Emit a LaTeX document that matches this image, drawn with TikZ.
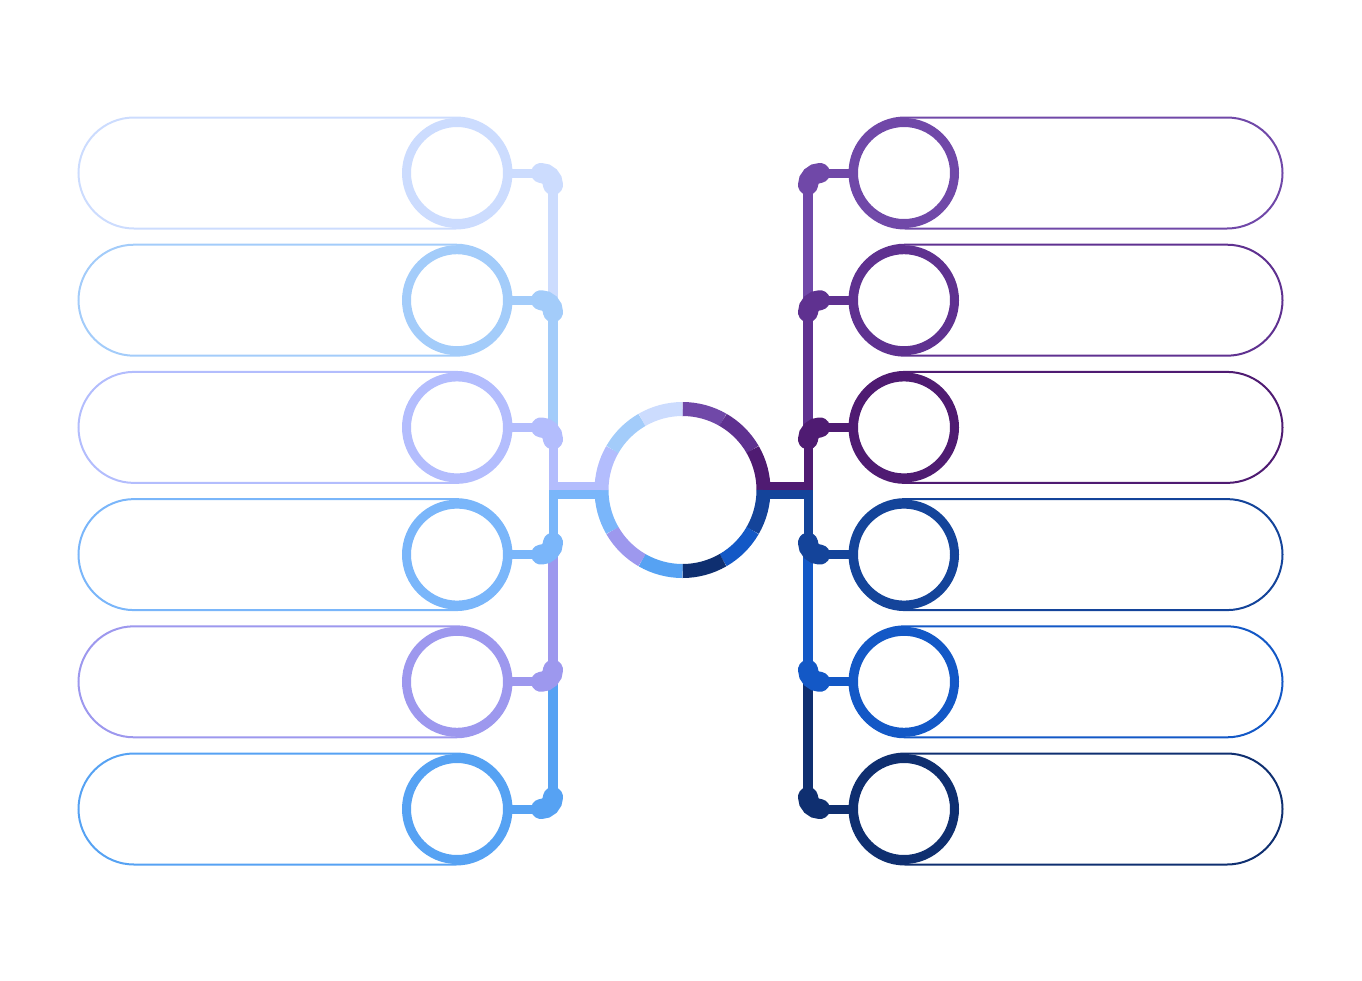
\documentclass[tikz,border=0pt]{standalone}
\usepackage{xcolor}
\usepackage{tikz}
\usetikzlibrary{calc}

\definecolor{lA}{HTML}{CCDCFE}
\definecolor{lB}{HTML}{A3CCFA}
\definecolor{lC}{HTML}{B3BDFD}
\definecolor{lD}{HTML}{7AB6FA}
\definecolor{lE}{HTML}{9D98EE}
\definecolor{lF}{HTML}{56A2F3}
\definecolor{rA}{HTML}{7048A8}
\definecolor{rB}{HTML}{5F3190}
\definecolor{rC}{HTML}{4F1B72}
\definecolor{rD}{HTML}{14449A}
\definecolor{rE}{HTML}{1358C6}
\definecolor{rF}{HTML}{0F2F70}

\tikzset{
 pill/.style = {draw, line width=2pt, rounded corners=55.5pt, minimum width=433pt, minimum height=111pt, inner sep=0pt},
 ring/.style = {draw, circle, line width=9pt, minimum size=101pt, inner sep=0pt, fill=white},
 link/.style = {line width=9pt},
 trunk/.style = {line width=10pt},
 knob/.style = {line width=20pt, line cap=round, rounded corners=12pt},
}

\begin{document}
\begin{tikzpicture}[x=1pt, y=-1pt]
\useasboundingbox (0,0) rectangle (1362,980);
% boxes with their circles
\foreach \i/\y/\cl/\cr in {1/173/lA/rA, 2/300.2/lB/rB, 3/427.4/lC/rC, 4/554.6/lD/rD, 5/681.8/lE/rE, 6/809/lF/rF} {
 \node[pill, draw=\cl] (pl\i) at (295,\y) {};
 \node[pill, draw=\cr] (pr\i) at (1066,\y) {};
 \node[ring, draw=\cl] (cl\i) at (457,\y) {};
 \node[ring, draw=\cr] (cr\i) at (904,\y) {};
 \coordinate (kl\i) at (541,\y);
 \coordinate (kr\i) at (820,\y);
}
\foreach \i/\y in {1/185, 2/312.2, 3/439.4, 4/542.6, 5/669.8, 6/797} {
 \coordinate (jl\i) at (553,\y);
 \coordinate (jr\i) at (808,\y);
}
\node[circle, minimum size=162pt, inner sep=0pt] (hub) at (682.5,490) {};
\coordinate (hl3) at ($(hub.west)+(0,-4)$);
\coordinate (hl4) at ($(hub.west)+(0,4)$);
\coordinate (hr3) at ($(hub.east)+(0,-4)$);
\coordinate (hr4) at ($(hub.east)+(0,4)$);

% trunks
\draw[trunk, lA] (jl1) -- (jl2);
\draw[trunk, lB] (jl2) -- (jl3);
\draw[link, lC] (jl3) -- (jl3 |- hl3) -- (hl3);
\draw[link, lD] (hl4) -- (jl4 |- hl4) -- (jl4);
\draw[trunk, lE] (jl4) -- (jl5);
\draw[trunk, lF] (jl5) -- (jl6);
\draw[trunk, rA] (jr1) -- (jr2);
\draw[trunk, rB] (jr2) -- (jr3);
\draw[link, rC] (jr3) -- (jr3 |- hr3) -- (hr3);
\draw[link, rD] (hr4) -- (jr4 |- hr4) -- (jr4);
\draw[trunk, rE] (jr4) -- (jr5);
\draw[trunk, rF] (jr5) -- (jr6);

\foreach \i/\cl/\cr in {1/lA/rA, 2/lB/rB, 3/lC/rC, 4/lD/rD, 5/lE/rE, 6/lF/rF} {
 \draw[link, \cl] (cl\i.east) -- (kl\i);
 \draw[knob, \cl] (kl\i) -- (jl\i |- kl\i) -- (jl\i);
 \draw[link, \cr] (cr\i.west) -- (kr\i);
 \draw[knob, \cr] (kr\i) -- (jr\i |- kr\i) -- (jr\i);
}

% centre ring
\foreach \a/\c in {-90/rA, -60/rB, -30/rC, 0/rD, 30/rE, 60/rF, 90/lF, 120/lE, 150/lD, 180/lC, 210/lB, 240/lA}
 \draw[\c, line width=14pt] (hub.center) ++(\a:81) arc[start angle=\a, end angle=\a+30, radius=81];
\end{tikzpicture}
\end{document}
